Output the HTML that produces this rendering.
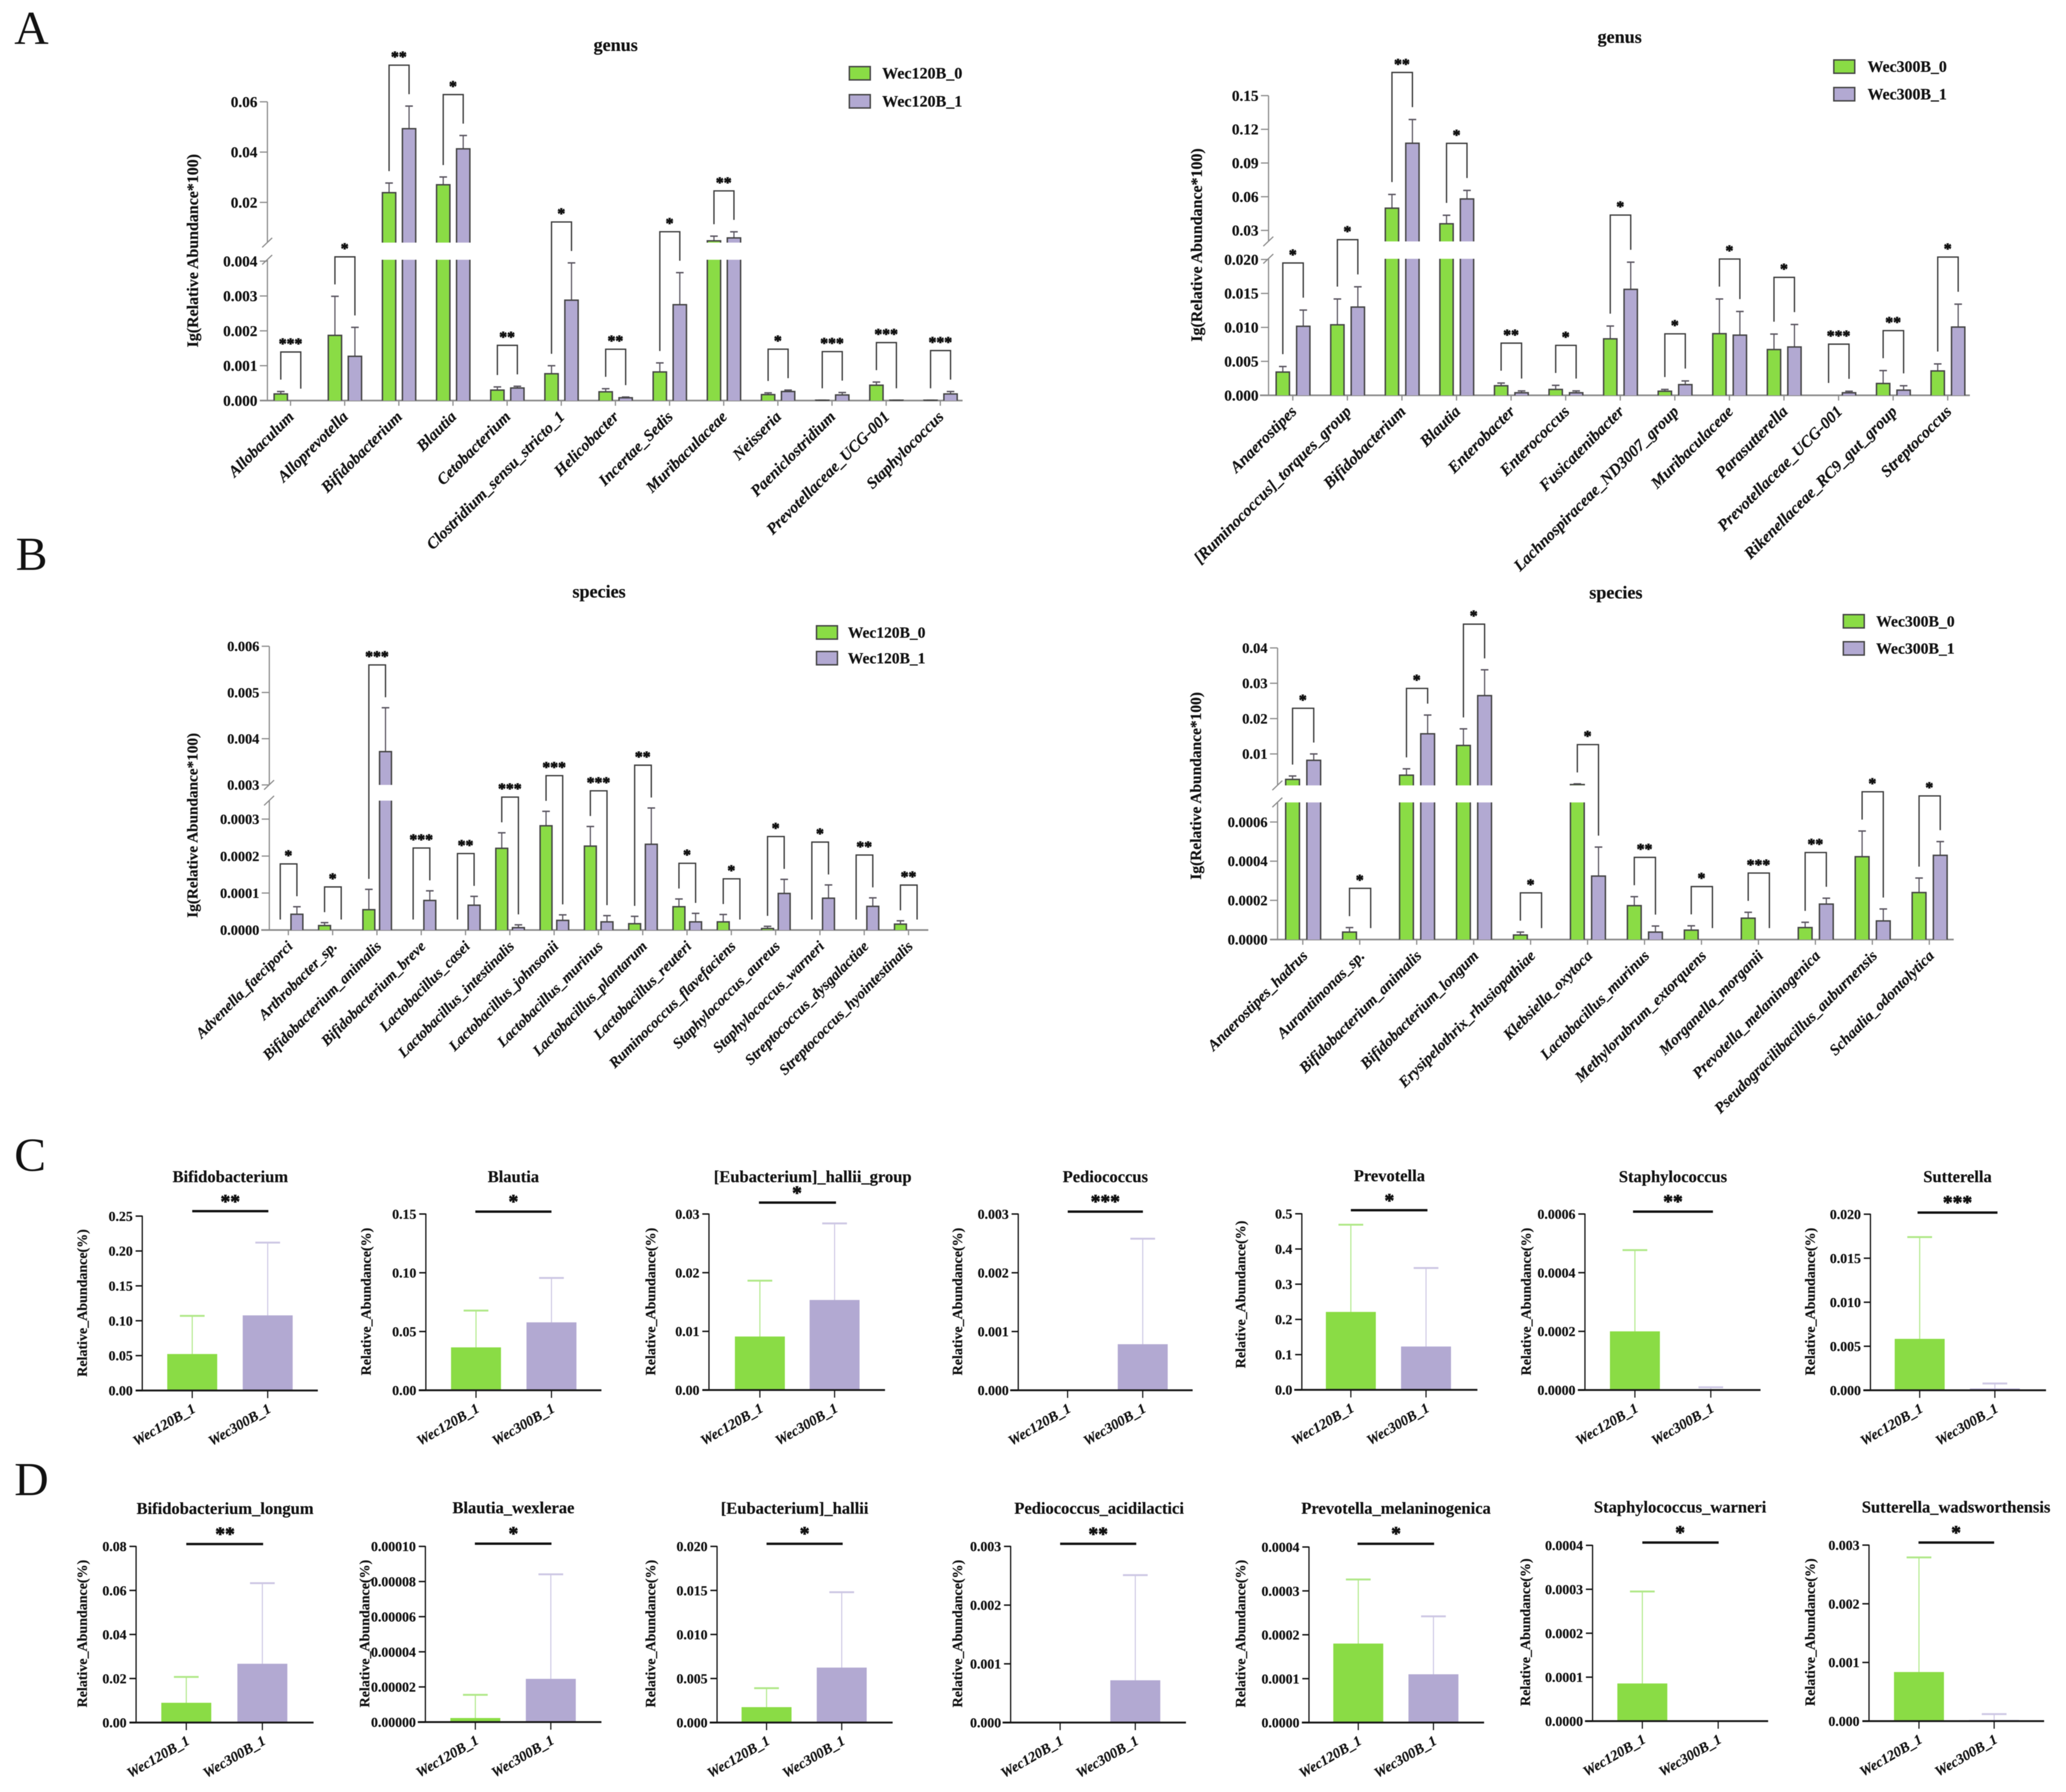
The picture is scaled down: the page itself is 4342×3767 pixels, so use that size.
<!DOCTYPE html>
<html lang="en">
<head>
<meta charset="utf-8">
<title>Relative abundance bar charts</title>
<style>
html,body{margin:0;padding:0;background:#fff;width:4342px;height:3767px;overflow:hidden}
svg{display:block;font-family:"Liberation Serif",serif;filter:blur(0.9px)}
text{fill:#111}
.b{font-weight:700;stroke:#111;stroke-width:0.35px}
.stars{stroke-width:1.3px}
.letter{font-size:100px;font-weight:400}
</style>
</head>
<body>
<svg id="figure" xmlns="http://www.w3.org/2000/svg" width="4342" height="3767" viewBox="0 0 4342 3767">
  <rect x="0" y="0" width="4342" height="3767" fill="#fff"/>
  <text class="letter" x="30" y="92">A</text>
  <text class="letter" x="33" y="1198">B</text>
  <text class="letter" x="30" y="2461">C</text>
  <text class="letter" x="30" y="3143">D</text>
</svg>
<script>
/* ---------- Panel A, left: genus, Wec120B ---------- */
const genus120Categories = ['Allobaculum','Alloprevotella','Bifidobacterium','Blautia','Cetobacterium','Clostridium_sensu_stricto_1','Helicobacter','Incertae_Sedis','Muribaculaceae','Neisseria','Paeniclostridium','Prevotellaceae_UCG-001','Staphylococcus'];
const genus120Base = [0.00019,0.00187,0.02386,0.027,0.0003,0.00077,0.00025,0.00082,0.0047,0.00017,0.00001,0.00044,0.00001];
const genus120BaseTop = [0.00026,0.00299,0.0277,0.0301,0.00039,0.001,0.00034,0.00108,0.00657,0.00022,0.00001,0.00053,0.00001];
const genus120Treated = [0,0.00127,0.0493,0.0413,0.00036,0.00288,0.00008,0.00275,0.00586,0.00026,0.00016,0.00001,0.00019];
const genus120TreatedTop = [0,0.0021,0.0583,0.0466,0.00041,0.00395,0.0001,0.00367,0.0083,0.0003,0.00023,0.00001,0.00026];
const genus120Stars = ['***','*','**','*','**','*','**','*','**','*','***','***','***'];
const genus120LowerTicks = ['0.000','0.001','0.002','0.003','0.004'];
const genus120UpperTicks = ['0.02','0.04','0.06'];

/* ---------- Panel A, right: genus, Wec300B ---------- */
const genus300Categories = ['Anaerostipes','[Ruminococcus]_torques_group','Bifidobacterium','Blautia','Enterobacter','Enterococcus','Fusicatenibacter','Lachnospiraceae_ND3007_group','Muribaculaceae','Parasutterella','Prevotellaceae_UCG-001','Rikenellaceae_RC9_gut_group','Streptococcus'];
const genus300Base = [0.00342,0.01038,0.0498,0.0359,0.00141,0.00087,0.00832,0.0006,0.00908,0.00674,0,0.00174,0.00359];
const genus300BaseTop = [0.00424,0.01418,0.062,0.0435,0.0018,0.00147,0.0102,0.00087,0.01418,0.00902,0,0.00364,0.00462];
const genus300Treated = [0.01016,0.01299,0.1076,0.058,0.00038,0.00038,0.0156,0.00158,0.00886,0.00712,0.00038,0.00076,0.01005];
const genus300TreatedTop = [0.01255,0.01598,0.1287,0.0656,0.00065,0.00065,0.0196,0.00212,0.01234,0.01043,0.0006,0.00141,0.01342];
const genus300Stars = ['*','*','**','*','**','*','*','*','*','*','***','**','*'];
const genus300LowerTicks = ['0.000','0.005','0.010','0.015','0.020'];
const genus300UpperTicks = ['0.03','0.06','0.09','0.12','0.15'];

/* ---------- Panel B, left: species, Wec120B ---------- */
const species120Categories = ['Advenella_faeciporci','Arthrobacter_sp.','Bifidobacterium_animalis','Bifidobacterium_breve','Lactobacillus_casei','Lactobacillus_intestinalis','Lactobacillus_johnsonii','Lactobacillus_murinus','Lactobacillus_plantarum','Lactobacillus_reuteri','Ruminococcus_flavefaciens','Staphylococcus_aureus','Staphylococcus_warneri','Streptococcus_dysgalactiae','Streptococcus_hyointestinalis'];
const species120Base = [0,0.000012,0.000055,0,0,0.000221,0.000282,0.000227,0.000017,0.000063,0.000022,0.000004,0,0,0.000016];
const species120BaseTop = [0,0.00002,0.00011,0,0,0.000263,0.000321,0.00028,0.000037,0.000084,0.000042,0.00001,0,0,0.000025];
const species120Treated = [0.0000427,0,0.00372,0.00008,0.000067,0.0000065,0.000026,0.000022,0.000232,0.000022,0,0.000099,0.000086,0.000064,0];
const species120TreatedTop = [0.000063,0,0.00467,0.000106,0.000091,0.000014,0.000041,0.000039,0.00033,0.000045,0,0.000137,0.000122,0.000087,0];
const species120Stars = ['*','*','***','***','**','***','***','***','**','*','*','*','*','**','**'];
const species120LowerTicks = ['0.0000','0.0001','0.0002','0.0003'];
const species120UpperTicks = ['0.003','0.004','0.005','0.006'];

/* ---------- Panel B, right: species, Wec300B ---------- */
const species300Categories = ['Anaerostipes_hadrus','Aurantimonas_sp.','Bifidobacterium_animalis','Bifidobacterium_longum','Erysipelothrix_rhusiopathiae','Klebsiella_oxytoca','Lactobacillus_murinus','Methylorubrum_extorquens','Morganella_morganii','Prevotella_melaninogenica','Pseudogracilibacillus_auburnensis','Schaalia_odontolytica'];
const species300Base = [0.0028,0.000038,0.004,0.0124,0.000023,0.00133,0.000173,0.000048,0.000109,0.000061,0.000423,0.00024];
const species300BaseTop = [0.00376,0.000061,0.0058,0.0171,0.000038,0.00154,0.000219,0.00007,0.000139,0.000088,0.000554,0.000314];
const species300Treated = [0.0082,0,0.0157,0.0265,0,0.000324,0.000038,0,0,0.000181,0.000095,0.00043];
const species300TreatedTop = [0.01,0,0.021,0.0338,0,0.000472,0.000069,0,0,0.000211,0.000156,0.0005];
const species300Stars = ['*','*','*','*','*','*','**','*','***','**','*','*'];
const species300LowerTicks = ['0.0000','0.0002','0.0004','0.0006'];
const species300UpperTicks = ['0.01','0.02','0.03','0.04'];

/* ---------- Panels C and D: two-bar comparisons ---------- */
const smallCategories = ['Wec120B_1','Wec300B_1'];
const smallTitles = ['Bifidobacterium','Blautia','[Eubacterium]_hallii_group','Pediococcus','Prevotella','Staphylococcus','Sutterella','Bifidobacterium_longum','Blautia_wexlerae','[Eubacterium]_hallii','Pediococcus_acidilactici','Prevotella_melaninogenica','Staphylococcus_warneri','Sutterella_wadsworthensis'];
const smallStars = ['**','*','*','***','*','**','***','**','*','*','**','*','*','*'];
const smallGreen = [0.0523,0.0365,0.00912,0,0.2213,0.0002,0.00584,0.00898,0.0000023,0.00175,0,0.00018,0.0000857,0.000837];
const smallGreenTop = [0.107,0.0678,0.01864,0,0.469,0.000477,0.0174,0.0207,0.0000155,0.0039,0,0.000326,0.000295,0.00279];
const smallPurple = [0.1077,0.0578,0.01535,0.000784,0.123,0.000001,0.0002,0.0267,0.0000246,0.00624,0.00072,0.00011,0,0.00002];
const smallPurpleTop = [0.212,0.0956,0.0284,0.00258,0.346,0.0000094,0.00077,0.0633,0.0000841,0.0148,0.00251,0.000242,0,0.00012];
const smallTickLabels = [
  ['0.00','0.05','0.10','0.15','0.20','0.25'],
  ['0.00','0.05','0.10','0.15'],
  ['0.00','0.01','0.02','0.03'],
  ['0.000','0.001','0.002','0.003'],
  ['0.0','0.1','0.2','0.3','0.4','0.5'],
  ['0.0000','0.0002','0.0004','0.0006'],
  ['0.000','0.005','0.010','0.015','0.020'],
  ['0.00','0.02','0.04','0.06','0.08'],
  ['0.00000','0.00002','0.00004','0.00006','0.00008','0.00010'],
  ['0.000','0.005','0.010','0.015','0.020'],
  ['0.000','0.001','0.002','0.003'],
  ['0.0000','0.0001','0.0002','0.0003','0.0004'],
  ['0.0000','0.0001','0.0002','0.0003','0.0004'],
  ['0.000','0.001','0.002','0.003']
];

/* ---------- Shared styling and layout ---------- */
const GREEN = '#8ADC45';
const PURPLE = '#B2A9D2';
const GREEN_LIGHT = '#B0E888';
const PURPLE_LIGHT = '#CDC7E4';
const AXIS_GREY = '#8a8a8a';
const INK = '#444';
const BIG_Y_TITLE = 'Ig(Relative Abundance*100)';
const SMALL_Y_TITLE = 'Relative_Abundance(%)';

const root = document.getElementById('figure');
const NS = 'http://www.w3.org/2000/svg';

function make(parent, tag, attrs, text) {
  const node = document.createElementNS(NS, tag);
  for (const key in attrs) node.setAttribute(key, attrs[key]);
  if (text !== undefined) node.textContent = text;
  parent.appendChild(node);
  return node;
}
function slug(s) {
  return String(s).toLowerCase().replace(/[^a-z0-9]+/g, '-').replace(/^-|-$/g, '');
}

/* Grouped bar chart with a broken y axis */
function drawGrouped(cfg, categories, base, baseTop, treated, treatedTop, stars, lowerLabels, upperLabels) {
  const chart = make(root, 'g', {});
  
  

  const lowerRate = (cfg.y0 - cfg.lowerTopY) / cfg.lowerMax;
  const upperRate = (cfg.upperMinY - cfg.upperMaxY) / (cfg.upperMax - cfg.upperMin);
  const yOf = function (v) {
    if (v <= cfg.lowerMax) return cfg.y0 - v * lowerRate;
    if (v >= cfg.upperMin) return cfg.upperMinY - (v - cfg.upperMin) * upperRate;
    return cfg.lowerTopY;
  };
  const xOf = function (i) { return cfg.firstTick + i * cfg.step; };

  const title = make(chart, 'text', {x: cfg.titleX, y: cfg.titleY, 'text-anchor': 'middle', class: 'b', 'font-size': 38}, cfg.title);
  
  

  const yTitle = make(chart, 'text', {x: 0, y: 0, 'text-anchor': 'middle', class: 'b', 'font-size': cfg.yTitleSize, transform: 'translate(' + cfg.yTitleX + ' ' + cfg.yTitleY + ') rotate(-90)'}, BIG_Y_TITLE);
  
  

  /* axes */
  const upperAxis = make(chart, 'line', {x1: cfg.axisX, x2: cfg.axisX, y1: cfg.upperMaxY, y2: cfg.upperMinY, stroke: AXIS_GREY, 'stroke-width': 2.5});
  
  
  const lowerAxis = make(chart, 'line', {x1: cfg.axisX, x2: cfg.axisX, y1: cfg.lowerTopY, y2: cfg.y0, stroke: AXIS_GREY, 'stroke-width': 2.5});
  
  
  [cfg.upperMinY, cfg.lowerTopY].forEach(function (by) {
    const slash = make(chart, 'line', {x1: cfg.axisX - 11, y1: by + 10, x2: cfg.axisX + 10, y2: by - 10, stroke: AXIS_GREY, 'stroke-width': 2.5});
    
    
  });
  const xAxis = make(chart, 'line', {x1: cfg.xStart, x2: cfg.xEnd, y1: cfg.y0, y2: cfg.y0, stroke: AXIS_GREY, 'stroke-width': 3.5});
  
  

  lowerLabels.concat(upperLabels).forEach(function (label) {
    const v = parseFloat(label);
    const ty = yOf(v);
    const tick = make(chart, 'line', {x1: cfg.axisX - 16, x2: cfg.axisX, y1: ty, y2: ty, stroke: AXIS_GREY, 'stroke-width': 2.5});
    
    
    const txt = make(chart, 'text', {x: cfg.axisX - 21, y: ty + cfg.tickSize * 0.34, 'text-anchor': 'end', class: 'b', 'font-size': cfg.tickSize}, label);
    
    
  });

  /* one bar, split over the axis break when it crosses it */
  const drawBar = function (group, cx, value, top, fill, seriesName) {
    if (value <= 0) return;
    const left = cx - cfg.barW / 2;
    const right = cx + cfg.barW / 2;
    const yTop = yOf(value);
    const errY = yOf(top);
    const errLine = make(group, 'line', {x1: cx, x2: cx, y1: errY, y2: yTop, stroke: '#5a5560', 'stroke-width': 2.5});
    
    
    const errCap = make(group, 'line', {x1: cx - 8, x2: cx + 8, y1: errY, y2: errY, stroke: '#5a5560', 'stroke-width': 3});
    
    
    if (value > cfg.lowerMax) {
      const upperPart = make(group, 'path', {d: 'M' + left + ' ' + cfg.upperMinY + 'V' + yTop + 'H' + right + 'V' + cfg.upperMinY, fill: fill, stroke: INK, 'stroke-width': 3});
      
      
      const lowerFill = make(group, 'rect', {x: left, y: cfg.lowerTopY, width: cfg.barW, height: cfg.y0 - cfg.lowerTopY, fill: fill});
      
      
      const lowerPart = make(group, 'path', {d: 'M' + left + ' ' + cfg.y0 + 'V' + cfg.lowerTopY + 'M' + right + ' ' + cfg.lowerTopY + 'V' + cfg.y0, stroke: INK, 'stroke-width': 3, fill: 'none'});
      
      
    } else {
      const bar = make(group, 'path', {d: 'M' + left + ' ' + cfg.y0 + 'V' + yTop + 'H' + right + 'V' + cfg.y0, fill: fill, stroke: INK, 'stroke-width': 3});
      
      
    }
  };

  categories.forEach(function (cat, i) {
    const x = xOf(i);
    const group = make(chart, 'g', {});
    
    

    drawBar(group, x + cfg.offA, base[i], baseTop[i], GREEN, 'baseline');
    drawBar(group, x + cfg.offB, treated[i], treatedTop[i], PURPLE, 'treated');

    const tick = make(group, 'line', {x1: x, x2: x, y1: cfg.y0, y2: cfg.y0 + 11, stroke: AXIS_GREY, 'stroke-width': 2.5});
    
    

    const lx = x + cfg.labelDx;
    const ly = cfg.y0 + 36;
    const label = make(group, 'text', {x: lx, y: ly, 'text-anchor': 'end', class: 'b', 'font-style': 'italic', 'font-size': cfg.labelSize, transform: 'rotate(-45 ' + lx + ' ' + ly + ')'}, cat);
    
    

    /* significance bracket follows the error-bar tops */
    const yA = yOf(baseTop[i]);
    const yB = yOf(treatedTop[i]);
    const rise = cfg.riseOverride[i] !== undefined ? cfg.riseOverride[i] : (yA < yB ? cfg.riseLeft : cfg.riseRight);
    const topY = Math.min(yA, yB) - rise;
    const bracket = make(group, 'path', {d: 'M' + (x + cfg.offA) + ' ' + (yA - cfg.legGap) + 'V' + topY + 'H' + (x + cfg.offB) + 'V' + (yB - cfg.legGap), fill: 'none', stroke: '#3c3c3c', 'stroke-width': 2.8});
    
    
    const star = make(group, 'text', {x: x, y: topY - 7, 'text-anchor': 'middle', class: 'b stars', 'font-size': 33}, stars[i]);
    
    
  });

  /* legend */
  cfg.legend.forEach(function (entry, i) {
    const row = make(chart, 'g', {});
    
    
    const swatch = make(row, 'rect', {x: cfg.legendX, y: cfg.legendY[i] - 14, width: 44, height: 28, fill: i === 0 ? GREEN : PURPLE, stroke: INK, 'stroke-width': 3});
    
    
    const text = make(row, 'text', {x: cfg.legendX + cfg.legendTextDx, y: cfg.legendY[i] + 11, class: 'b', 'font-size': cfg.legendSize}, entry);
    
    
  });
}

/* Two-bar comparison chart */
function drawSmall(frame, idx) {
  const chart = make(root, 'g', {});
  
  

  const labels = smallTickLabels[idx];
  const maxVal = parseFloat(labels[labels.length - 1]);
  const yOf = function (v) { return frame.y0 - v * (frame.y0 - frame.top) / maxVal; };

  const title = make(chart, 'text', {x: frame.titleX, y: frame.titleY, 'text-anchor': 'middle', class: 'b', 'font-size': 34.7}, smallTitles[idx]);
  
  

  const yTitle = make(chart, 'text', {x: 0, y: 0, 'text-anchor': 'middle', class: 'b', 'font-size': 29.4, transform: 'translate(' + (frame.yTitleX + 10) + ' ' + frame.yTitleY + ') rotate(-90)'}, SMALL_Y_TITLE);
  
  

  const series = [
    {x: frame.c1, v: smallGreen[idx], t: smallGreenTop[idx], fill: GREEN, light: GREEN_LIGHT, name: 'wec120b'},
    {x: frame.c2, v: smallPurple[idx], t: smallPurpleTop[idx], fill: PURPLE, light: PURPLE_LIGHT, name: 'wec300b'}
  ];
  series.forEach(function (s) {
    if (s.t > 0) {
      const errLine = make(chart, 'line', {x1: s.x, x2: s.x, y1: yOf(s.t), y2: yOf(s.v), stroke: s.light, 'stroke-width': 2.2});
      
      
      const errCap = make(chart, 'line', {x1: s.x - 26, x2: s.x + 26, y1: yOf(s.t), y2: yOf(s.t), stroke: s.light, 'stroke-width': 4});
      
      
    }
    if (s.v > 0) {
      const bar = make(chart, 'rect', {x: s.x - 52.5, y: yOf(s.v), width: 105, height: frame.y0 - yOf(s.v), fill: s.fill});
      
      
    }
  });

  const yAxis = make(chart, 'line', {x1: frame.axisX, x2: frame.axisX, y1: frame.top - 1, y2: frame.y0, stroke: '#111', 'stroke-width': 2.6});
  
  
  const xAxis = make(chart, 'line', {x1: frame.xStart, x2: frame.xEnd, y1: frame.y0, y2: frame.y0, stroke: '#1a1a1a', 'stroke-width': 4});
  
  

  labels.forEach(function (label) {
    const ty = yOf(parseFloat(label));
    const tick = make(chart, 'line', {x1: frame.axisX - 14, x2: frame.axisX, y1: ty, y2: ty, stroke: '#111', 'stroke-width': 3});
    
    
    const txt = make(chart, 'text', {x: frame.axisX - 20, y: ty + 10, 'text-anchor': 'end', class: 'b', 'font-size': 29}, label);
    
    
  });

  smallCategories.forEach(function (cat, i) {
    const x = i === 0 ? frame.c1 : frame.c2;
    const tick = make(chart, 'line', {x1: x, x2: x, y1: frame.y0, y2: frame.y0 + 16, stroke: '#111', 'stroke-width': 2.4});
    
    
    const lx = x + 9;
    const ly = frame.y0 + 44;
    const label = make(chart, 'text', {x: lx, y: ly, 'text-anchor': 'end', class: 'b', 'font-style': 'italic', 'font-size': 30, transform: 'rotate(-30 ' + lx + ' ' + ly + ')'}, cat);
    
    
  });

  const sig = make(chart, 'line', {x1: frame.sig1, x2: frame.sig2, y1: frame.sigY, y2: frame.sigY, stroke: '#111', 'stroke-width': 5});
  
  
  const star = make(chart, 'text', {x: frame.starX, y: frame.starY - 2, 'text-anchor': 'middle', class: 'b stars', 'font-size': 41}, smallStars[idx]);
  
  
}

/* ---------- Render ---------- */
drawGrouped({
  name: 'genus-wec120b-chart', title: 'genus', titleX: 1294, titleY: 107,
  yTitleX: 416, yTitleY: 527, yTitleSize: 33.5, tickSize: 32, labelSize: 33.5, labelDx: 9,
  axisX: 562, xStart: 546, xEnd: 2023, firstTick: 610.6, step: 113.8, offA: -20.5, offB: 21.5, barW: 28,
  y0: 842, lowerMax: 0.00404, lowerTopY: 546, upperMin: 0.004, upperMinY: 510, upperMax: 0.06, upperMaxY: 214,
  riseLeft: 83, riseRight: 86, riseOverride: {}, legGap: 25,
  legend: ['Wec120B_0', 'Wec120B_1'], legendX: 1785, legendY: [154, 213], legendTextDx: 69, legendSize: 33.7
}, genus120Categories, genus120Base, genus120BaseTop, genus120Treated, genus120TreatedTop, genus120Stars, genus120LowerTicks, genus120UpperTicks);

drawGrouped({
  name: 'genus-wec300b-chart', title: 'genus', titleX: 3404, titleY: 90,
  yTitleX: 2526, yTitleY: 515, yTitleSize: 33.5, tickSize: 32, labelSize: 34, labelDx: 10,
  axisX: 2666, xStart: 2648, xEnd: 4140, firstTick: 2717, step: 114.7, offA: -21, offB: 22, barW: 28,
  y0: 831, lowerMax: 0.0201, lowerTopY: 544, upperMin: 0.0202, upperMinY: 507.5, upperMax: 0.15, upperMaxY: 201,
  riseLeft: 84, riseRight: 99, riseOverride: {}, legGap: 26,
  legend: ['Wec300B_0', 'Wec300B_1'], legendX: 3854, legendY: [140, 198], legendTextDx: 71, legendSize: 33.3
}, genus300Categories, genus300Base, genus300BaseTop, genus300Treated, genus300TreatedTop, genus300Stars, genus300LowerTicks, genus300UpperTicks);

drawGrouped({
  name: 'species-wec120b-chart', title: 'species', titleX: 1259, titleY: 1256,
  yTitleX: 415, yTitleY: 1735, yTitleSize: 32, tickSize: 30, labelSize: 31.3, labelDx: 11,
  axisX: 566, xStart: 549, xEnd: 1951, firstTick: 606, step: 93.1, offA: -17, offB: 18, barW: 25,
  y0: 1955, lowerMax: 0.00035, lowerTopY: 1683, upperMin: 0.003, upperMinY: 1650, upperMax: 0.006, upperMaxY: 1358.5,
  riseLeft: 75, riseRight: 90, riseOverride: {}, legGap: 22,
  legend: ['Wec120B_0', 'Wec120B_1'], legendX: 1716, legendY: [1329.5, 1383.5], legendTextDx: 66, legendSize: 32.6
}, species120Categories, species120Base, species120BaseTop, species120Treated, species120TreatedTop, species120Stars, species120LowerTicks, species120UpperTicks);

drawGrouped({
  name: 'species-wec300b-chart', title: 'species', titleX: 3396, titleY: 1258,
  yTitleX: 2524, yTitleY: 1652, yTitleSize: 32.5, tickSize: 30.5, labelSize: 32.3, labelDx: 12,
  axisX: 2685, xStart: 2669, xEnd: 4106, firstTick: 2738, step: 119.7, offA: -21.5, offB: 23, barW: 29,
  y0: 1975, lowerMax: 0.0007, lowerTopY: 1686.8, upperMin: 0.0011, upperMinY: 1651, upperMax: 0.04, upperMaxY: 1362,
  riseLeft: 82.5, riseRight: 96, riseOverride: {2: 56}, legGap: 24,
  legend: ['Wec300B_0', 'Wec300B_1'], legendX: 3874, legendY: [1306, 1363], legendTextDx: 69, legendSize: 33
}, species300Categories, species300Base, species300BaseTop, species300Treated, species300TreatedTop, species300Stars, species300LowerTicks, species300UpperTicks);

const smallFrames = [
  {axisX:299, y0:2923, top:2556.4, c1:404, c2:562.6, xStart:285, xEnd:668, titleX:484, titleY:2485, sig1:404, sig2:564, sigY:2546, starX:484, starY:2541, yTitleX:172.6, yTitleY:2739},
  {axisX:895, y0:2922.5, top:2552, c1:1000.4, c2:1159, xStart:880, xEnd:1264, titleX:1079, titleY:2485, sig1:999, sig2:1159, sigY:2547, starX:1079, starY:2541, yTitleX:769, yTitleY:2736},
  {axisX:1490, y0:2922, top:2552, c1:1597, c2:1754, xStart:1476, xEnd:1860, titleX:1708, titleY:2485, sig1:1595, sig2:1757, sigY:2528, starX:1675, starY:2523, yTitleX:1367, yTitleY:2736},
  {axisX:2140, y0:2922.5, top:2552, c1:2243.7, c2:2401.6, xStart:2123, xEnd:2506.5, titleX:2323, titleY:2485, sig1:2244, sig2:2402, sigY:2547, starX:2323, starY:2541, yTitleX:2012, yTitleY:2736},
  {axisX:2736, y0:2921.6, top:2551.5, c1:2839, c2:2997, xStart:2720, xEnd:3105, titleX:2920, titleY:2483, sig1:2839, sig2:3000, sigY:2544, starX:2920, starY:2539, yTitleX:2607, yTitleY:2721},
  {axisX:3331, y0:2922, top:2552, c1:3436, c2:3595.5, xStart:3316, xEnd:3700, titleX:3516, titleY:2485, sig1:3432, sig2:3600, sigY:2547, starX:3516, starY:2541, yTitleX:3207, yTitleY:2736},
  {axisX:3931, y0:2922.5, top:2552.4, c1:4034.5, c2:4192.5, xStart:3916, xEnd:4300, titleX:4114, titleY:2485, sig1:4030, sig2:4198, sigY:2549, starX:4114, starY:2543, yTitleX:3804, yTitleY:2736},
  {axisX:286, y0:3621, top:3250.7, c1:391.5, c2:551.4, xStart:272, xEnd:659, titleX:473, titleY:3182.5, sig1:391.5, sig2:553, sigY:3245.8, starX:473, starY:3240, yTitleX:172.6, yTitleY:3434},
  {axisX:894, y0:3620, top:3250.7, c1:999, c2:1157.6, xStart:878, xEnd:1264, titleX:1079, titleY:3181, sig1:998, sig2:1159, sigY:3245, starX:1079, starY:3239, yTitleX:766, yTitleY:3434},
  {axisX:1507, y0:3621, top:3250.7, c1:1611, c2:1769, xStart:1491.5, xEnd:1876, titleX:1670, titleY:3182, sig1:1611, sig2:1771, sigY:3245.3, starX:1691, starY:3239, yTitleX:1367, yTitleY:3434},
  {axisX:2124, y0:3621, top:3250.7, c1:2228, c2:2386, xStart:2107, xEnd:2492.5, titleX:2310, titleY:3182, sig1:2228, sig2:2388, sigY:3245.3, starX:2308, starY:3240, yTitleX:2012, yTitleY:3434},
  {axisX:2751, y0:3621, top:3252, c1:2854.6, c2:3012.6, xStart:2736, xEnd:3119, titleX:2934, titleY:3182, sig1:2853, sig2:3014, sigY:3245.3, starX:2934, starY:3239, yTitleX:2607, yTitleY:3434},
  {axisX:3347, y0:3618, top:3248.5, c1:3451.6, c2:3611, xStart:3331, xEnd:3716, titleX:3531, titleY:3179.5, sig1:3451.6, sig2:3612, sigY:3242.6, starX:3531, starY:3237, yTitleX:3205.5, yTitleY:3431},
  {axisX:3928, y0:3618, top:3248, c1:4033, c2:4191, xStart:3914, xEnd:4296, titleX:4111, titleY:3179.5, sig1:4032, sig2:4191, sigY:3242.6, starX:4111, starY:3237, yTitleX:3804, yTitleY:3431}
];
smallFrames.forEach(drawSmall);
</script>
</body>
</html>
